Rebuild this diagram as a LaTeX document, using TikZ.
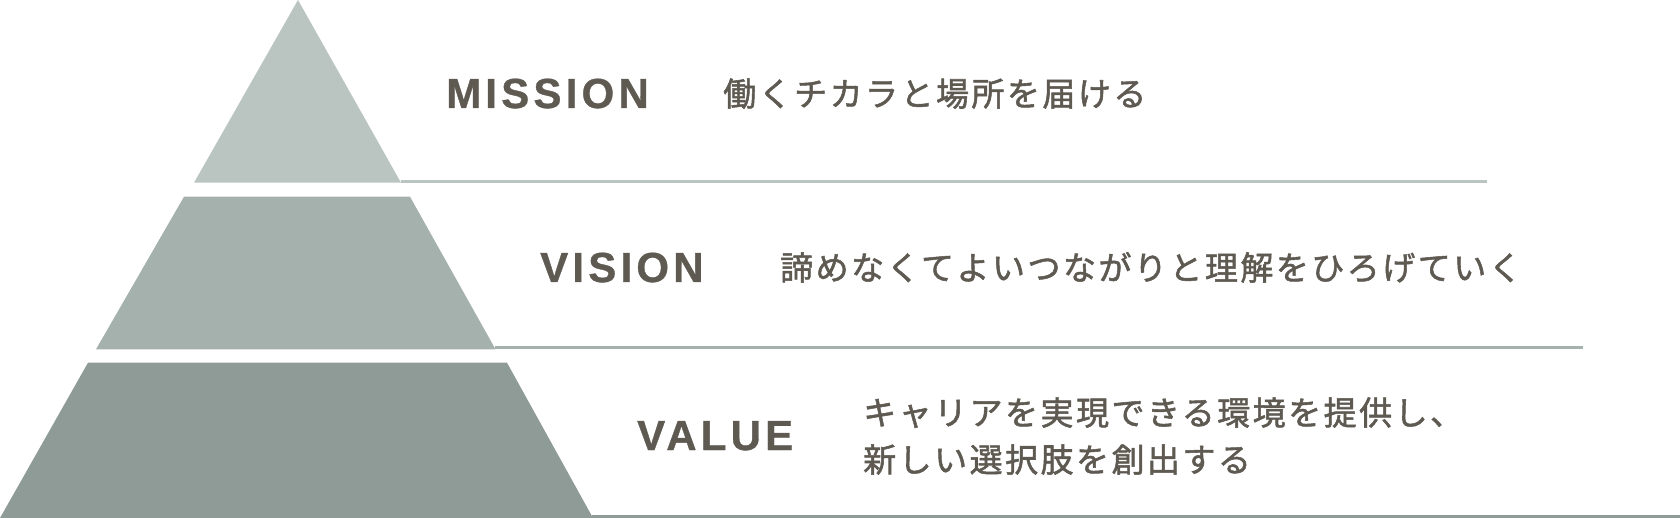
\documentclass[tikz,border=0pt]{standalone}
\usepackage{fontspec}
\setmainfont{Liberation Sans}
\newfontfamily\labelfont[LetterSpace=10,FakeBold=0.8]{Liberation Sans}
\newfontfamily\jpfont[LetterSpace=7.5,FakeBold=1.6]{Noto Sans CJK JP}
\definecolor{tonetop}{HTML}{BAC5C1}
\definecolor{tonemid}{HTML}{A5B1AD}
\definecolor{tonelow}{HTML}{8E9B97}
\definecolor{inkgrey}{HTML}{5E5A52}
\begin{document}
\begin{tikzpicture}[x=1pt,y=-1pt,
  title/.style={anchor=base west,inner sep=0pt,text=inkgrey,font=\labelfont\bfseries\fontsize{42}{42}\selectfont},
  phrase/.style={anchor=base west,inner sep=0pt,text=inkgrey,font=\jpfont\fontsize{33}{47}\selectfont},
  rule/.style={line width=3pt}]
\useasboundingbox (0,0) rectangle (1680,518);
% pyramid
\fill[tonetop] (298,0) -- (401,182.7) -- (194,182.7) -- cycle;
\fill[tonemid] (184,196.7) -- (410,196.7) -- (495.5,349.3) -- (96,349.3) -- cycle;
\fill[tonelow] (88,362.7) -- (507,362.7) -- (593,518) -- (0,518) -- cycle;
\draw[rule,tonetop] (401,181.5) -- (1487,181.5);
\draw[rule,tonemid] (495,347.7) -- (1583,347.7);
\draw[rule,tonelow] (592,516.5) -- (1680,516.5);
% labels
\node (mission) [title] at (446,108) {MISSION};
\node (vision) [title] at (540,282) {VISION};
\node (value) [title] at (637,450) {VALUE};
\node (missiontext) [phrase] at (723,106) {働くチカラと場所を届ける};
\node (visiontext) [phrase] at (780,280) {諦めなくてよいつながりと理解をひろげていく};
\node (valuetext) [phrase,align=left] at (863,472) {キャリアを実現できる環境を提供し、\\新しい選択肢を創出する};
\end{tikzpicture}
\end{document}
